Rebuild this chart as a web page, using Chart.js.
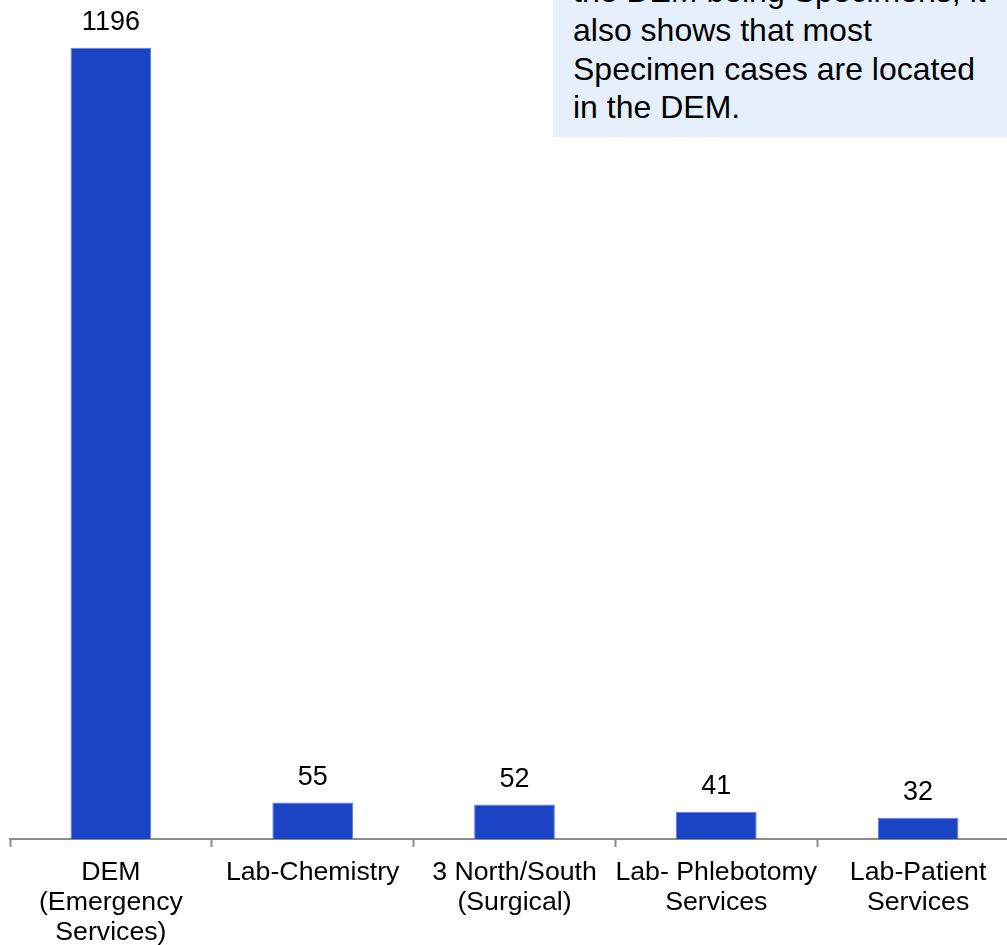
<!DOCTYPE html>
<html>
<head>
<meta charset="utf-8">
<script src="https://cdn.jsdelivr.net/npm/chart.js@4/dist/chart.umd.min.js"></script>
<style>
  html, body { margin: 0; padding: 0; background: #fff; overflow: hidden; }
  #wrap { position: relative; width: 1007px; height: 945px; overflow: hidden; }
  #chartBox { position: absolute; left: 0; top: 0; width: 1019px; height: 959px; }
  #note {
    position: absolute; left: 553px; top: 0; width: 470px; height: 137px;
    background: #E6F0FD; overflow: hidden;
    font-family: "Liberation Sans", Arial, sans-serif; font-size: 32px;
    line-height: 38.8px; color: #000;
  }
  #note .txt { position: absolute; left: 20px; top: -28px; white-space: nowrap; }
</style>
</head>
<body>
<div id="wrap">
  <div id="chartBox"><canvas id="c" width="1019" height="959"></canvas></div>
  <div id="note"><div class="txt">
    <div>the DEM being Specimens, it</div>
    <div>also shows that most</div>
    <div>Specimen cases are located</div>
    <div>in the DEM.</div>
  </div></div>
</div>
<script>
// Departments and their case counts
const categories = [
  ["DEM", "(Emergency", "Services)"],
  ["Lab-Chemistry"],
  ["3 North/South", "(Surgical)"],
  ["Lab- Phlebotomy", "Services"],
  ["Lab-Patient", "Services"]
];
const caseCounts = [1196, 55, 52, 41, 32];

const FONT = '"Liberation Sans", Arial, sans-serif';

// Writes each bar's value above it
const valueLabels = {
  id: 'valueLabels',
  afterDatasetsDraw(chart) {
    const ctx = chart.ctx;
    const meta = chart.getDatasetMeta(0);
    ctx.save();
    ctx.font = '27px ' + FONT;
    ctx.fillStyle = '#000';
    ctx.textAlign = 'center';
    ctx.textBaseline = 'alphabetic';
    meta.data.forEach((bar, i) => {
      ctx.fillText(String(caseCounts[i]), bar.x, bar.y - 18);
    });
    ctx.restore();
  }
};

new Chart(document.getElementById('c'), {
  type: 'bar',
  data: {
    labels: categories,
    datasets: [{
      data: caseCounts,
      backgroundColor: '#1A44C4',
      borderColor: '#5C7CDE',
      borderWidth: 1,
      barPercentage: 0.4,
      categoryPercentage: 1.0
    }]
  },
  options: {
    responsive: false,
    animation: false,
    layout: { padding: { left: 10, right: 0, top: 0, bottom: 0 } },
    plugins: { legend: { display: false }, tooltip: { enabled: false } },
    scales: {
      x: {
        offset: true,
        grid: {
          display: true,
          offset: true,
          drawOnChartArea: false,
          drawTicks: true,
          tickLength: 8,
          tickWidth: 2,
          tickColor: '#8C8C8C'
        },
        border: { display: true, color: '#8C8C8C', width: 2 },
        ticks: {
          color: '#000',
          padding: 11,
          maxRotation: 0,
          autoSkip: false,
          font: { family: FONT, size: 26.7, lineHeight: 30 / 26.7 }
        }
      },
      y: {
        display: false,
        min: 0,
        max: 1268
      }
    }
  },
  plugins: [valueLabels]
});
</script>
</body>
</html>
